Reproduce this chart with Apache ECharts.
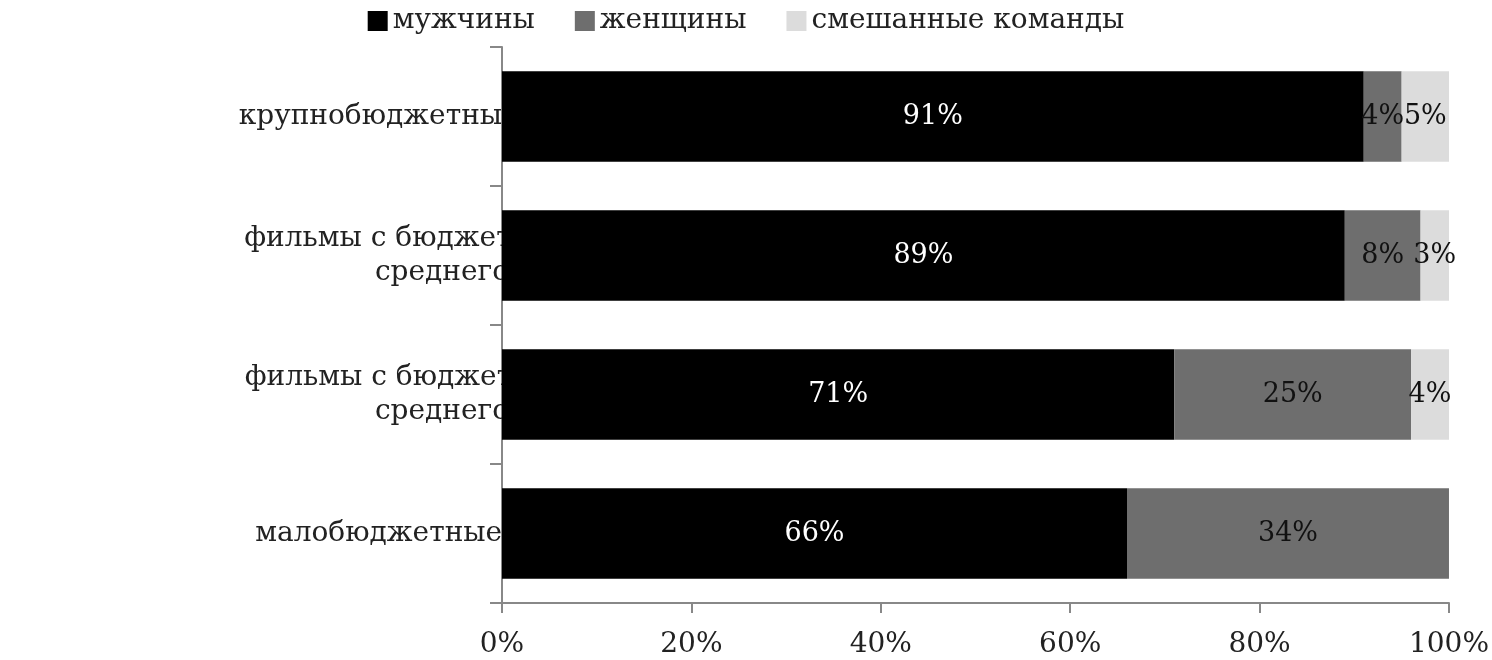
<!DOCTYPE html>
<html><head><meta charset="utf-8">
<script src="https://cdn.jsdelivr.net/npm/echarts@6/dist/echarts.min.js"></script>
<style>html,body{margin:0;padding:0;background:#fff}#c{width:1492px;height:660px}</style>
</head><body><div id="c"></div>
<script>
const categories = ['малобюджетные фильмы','фильмы с бюджетом ниже\nсреднего','фильмы с бюджетом выше\nсреднего','крупнобюджетные фильмы'];
const men = [66, 71, 89, 91];
const women = [34, 25, 8, 4];
const mixed = [0, 4, 3, 5];
const xTicks = [0, 20, 40, 60, 80, 100];
const F = 'DejaVu Serif';
const chart = echarts.init(document.getElementById('c'));
function lab(color){return {show:true,position:'inside',color:color,fontFamily:F,fontSize:27,formatter:p=>p.value>0?p.value+'%':''};}
chart.setOption({
  animation:false,
  legend:{top:2,left:'center',itemWidth:20,itemHeight:20,itemGap:40,icon:'rect',
    textStyle:{fontFamily:F,fontSize:28,color:'#222'}},
  grid:{left:502,right:34,top:47,bottom:57},
  xAxis:{type:'value',min:0,max:100,interval:20,
    axisLine:{show:true,lineStyle:{color:'#888',width:2}},
    axisTick:{show:true,length:10,lineStyle:{color:'#888',width:2}},
    splitLine:{show:false},
    axisLabel:{fontFamily:F,fontSize:28,color:'#222',margin:28,formatter:v=>v+'%'}},
  yAxis:{type:'category',data:categories,
    axisLine:{lineStyle:{color:'#888',width:2}},
    axisTick:{show:true,length:12,lineStyle:{color:'#888',width:2}},
    axisLabel:{fontFamily:F,fontSize:28,color:'#222',margin:60,lineHeight:34,align:'center'}},
  series:[
    {name:'мужчины',type:'bar',stack:'a',barWidth:'65%',data:men,itemStyle:{color:'#000'},label:lab('#fff')},
    {name:'женщины',type:'bar',stack:'a',data:women,itemStyle:{color:'#6e6e6e'},label:lab('#111')},
    {name:'смешанные команды',type:'bar',stack:'a',data:mixed,itemStyle:{color:'#dcdcdc'},label:lab('#111')}
  ]
});
</script></body></html>
